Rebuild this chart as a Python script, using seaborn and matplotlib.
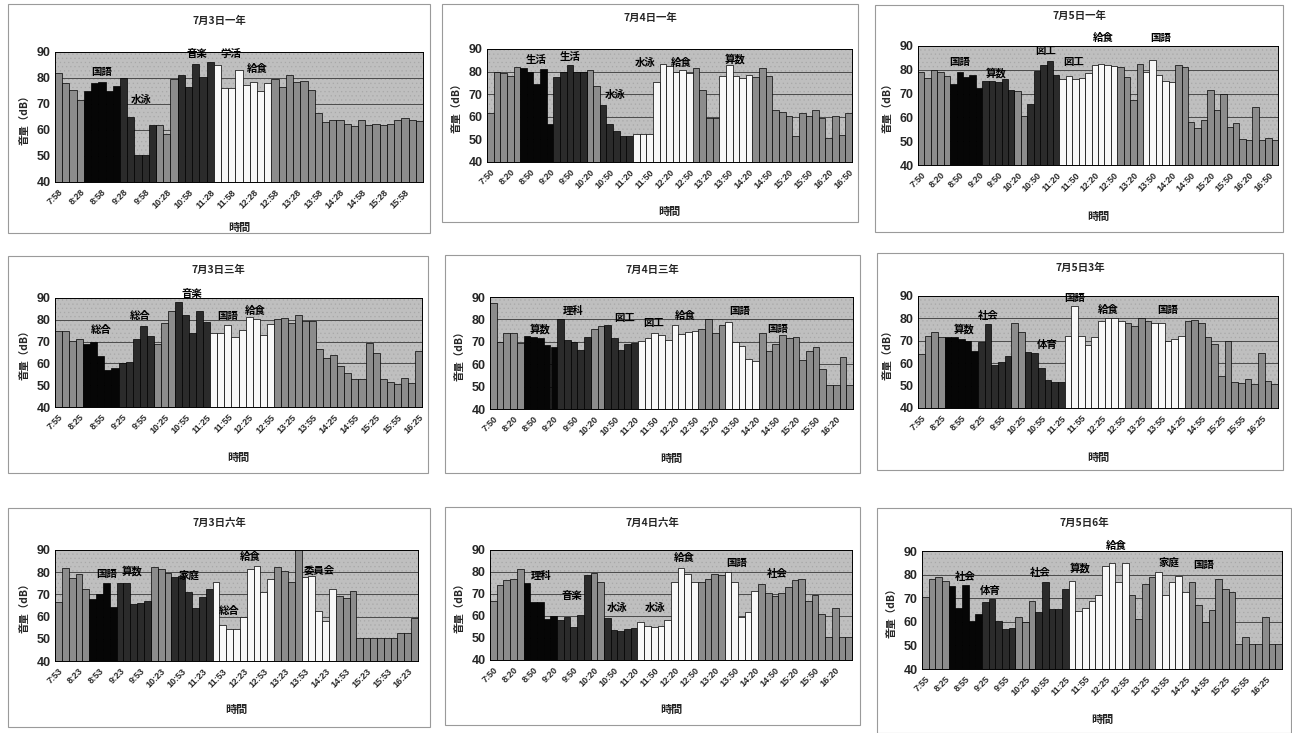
import matplotlib
matplotlib.use("Agg")
import matplotlib.pyplot as plt
from matplotlib.patches import Rectangle
import seaborn as sns
import pandas as pd

sns.set_style("white")
plt.rcParams['font.family'] = ['Noto Sans CJK JP', 'DejaVu Sans']
plt.rcParams['font.weight'] = 'bold'
plt.rcParams['hatch.linewidth'] = 0.4

# ---------------- data ----------------
titles = ["7月3日一年", "7月4日一年", "7月5日一年",
          "7月3日三年", "7月4日三年", "7月5日3年",
          "7月3日六年", "7月4日六年", "7月5日6年"]

start_times = ["7:58", "7:50", "7:50", "7:55", "7:50", "7:55", "7:53", "7:50", "7:55"]

# sound level (dB), one bar per 10 minutes
v1 = [82, 78, 75.5, 71.5, 75, 78, 78.5, 75, 77, 80, 65, 50.5, 50.5, 62, 62, 58.5, 79.5,
      81, 76.5, 85.5, 80.5, 86, 85, 76, 76, 83, 77.5, 78.5, 75, 78, 79.5, 76.5, 81, 78.5,
      79, 75.5, 66.5, 63, 64, 64, 62.5, 61.5, 64, 62, 62.5, 62, 62.5, 64, 64.5, 64, 63.5]
v2 = [61.5, 80, 79.5, 78, 82, 81.5, 80, 74.5, 81, 57, 77.5, 80, 83, 80, 80, 80.5, 73.5,
      65, 57, 53.5, 51.5, 51.5, 52.5, 52.5, 52.5, 75.5, 83.5, 82.5, 80, 80.5, 79.5, 81.5,
      72, 59.5, 59.5, 78, 83, 78, 77, 78.5, 77.5, 81.5, 78, 63, 62, 60.5, 51.5, 61.5, 60.5,
      63, 59.5, 50.5, 60.5, 52, 61.5]
v3 = [79, 76.5, 80, 79, 77.5, 74, 79, 77, 78, 72.5, 75.5, 75.5, 75, 76, 71.5, 71, 60.5,
      65.5, 79.5, 82, 83.5, 78, 76, 77.5, 76, 76.5, 78.5, 82, 82.5, 82, 81.5, 81, 77, 67.5,
      82.5, 79, 84, 78, 75.5, 75, 82, 81, 58, 55.5, 59, 71.5, 63, 70, 56, 57.5, 51, 50.5,
      64.5, 50.5, 51.5, 50.5]
v4 = [75, 75, 70.5, 71, 69, 70, 63.5, 57, 58, 60, 60.5, 71, 77, 72.5, 69, 78.5, 84, 88,
      82, 74, 84, 79, 74, 74, 77.5, 72, 75.5, 81.5, 80.5, 73, 78, 80.5, 81, 78.5, 82, 79.5,
      79.5, 66.5, 62.5, 64, 59, 55.5, 53, 53, 69.5, 65, 53, 51.5, 50.5, 53.5, 51, 65.5]
v5 = [87.5, 70, 74, 74, 69.5, 72.5, 72, 71.5, 68.5, 67.5, 80, 71, 70, 66.5, 72, 75.5, 77,
      77.5, 71.5, 66.5, 69, 69.5, 70.5, 71.5, 74, 73, 71, 77.5, 73.5, 74.5, 75, 75.5, 80,
      74, 77.5, 79, 70, 68, 62.5, 61.5, 74, 66, 69, 73, 71.5, 72, 62, 66, 67.5, 58, 50.5,
      50.5, 63, 50.5]
v6 = [64, 72, 74, 71.5, 71.5, 71.5, 71, 70, 65.5, 69.5, 77.5, 59, 60.5, 63, 78, 74, 65,
      64.5, 58, 52.5, 51.5, 51.5, 72, 85.5, 72, 68, 71.5, 79, 80, 80, 79, 78, 76.5, 80, 79,
      78, 78, 70, 71, 72, 79, 79.5, 78, 71.5, 68.5, 54.5, 70, 51.5, 51, 53, 50.5, 64.5, 52,
      50.5]
v7 = [66.5, 82, 77.5, 79, 72.5, 68, 70, 75, 64.5, 75, 75, 65.5, 66, 67, 82.5, 81.5, 79.5,
      78, 78.5, 71, 64, 69, 72.5, 75.5, 56, 54.5, 54.5, 60, 81.5, 83, 71, 77, 82.5, 80.5,
      75.5, 90.5, 78, 78.5, 62.5, 58, 72.5, 69.5, 68.5, 71.5, 50.5, 50.5, 50.5, 50.5, 50.5,
      50.5, 52.5, 52.5, 59.5]
v8 = [67, 74, 76.5, 77, 81.5, 75, 66.5, 66.5, 58.5, 60, 58, 59.5, 55, 60.5, 78.5, 79.5,
      75.5, 59, 53.5, 53, 54, 54.5, 57.5, 55.5, 55, 55.5, 58, 75.5, 82, 79, 75.5, 75.5, 77,
      79, 78.5, 80, 75.5, 59.5, 62, 71.5, 74.5, 70.5, 69, 70.5, 73, 76.5, 77, 67, 69.5, 61,
      50.5, 63.5, 50.5, 50.5]
v9 = [70.5, 78, 79, 77.5, 75, 66, 75.5, 60.5, 63.5, 68.5, 69.5, 60.5, 57, 57.5, 62, 60,
      69, 64, 77, 65.5, 65.5, 74, 77.5, 64.5, 66, 69, 71.5, 83.5, 85, 77, 85, 71.5, 61, 76,
      79, 81, 71.5, 77, 79.5, 72.5, 77, 67, 60, 65, 78, 74, 72.5, 50.5, 53.5, 50.5, 50.5,
      62, 50.5, 50.5]

# period type of each bar: g = break/other, k = 1st lesson block, d = 2nd block, w = lunch/afternoon
t1 = "gggg" + "kkkkk" + "ddddd" + "ggg" + "ddddd" + "wwwwwwww" + "g" * 21
t2 = "ggggg" + "kkkkk" + "ddddd" + "gg" + "ddddd" + "w" * 9 + "gggg" + "wwwww" + "g" * 15
t3 = "ggggg" + "kkkkk" + "ddddd" + "gg" + "ddddd" + "w" * 9 + "gggg" + "wwwww" + "g" * 16
t4 = "gggg" + "kkkkk" + "ddddd" + "ggg" + "ddddd" + "w" * 9 + "g" * 21
t5 = "ggggg" + "kkkkk" + "ddddd" + "gg" + "ddddd" + "w" * 9 + "gggg" + "wwwww" + "g" * 14
t6 = "gggg" + "kkkkk" + "ddddd" + "gg" + "dddddd" + "w" * 9 + "gggg" + "wwwww" + "g" * 14
t7 = "ggggg" + "kkkk" + "ddddd" + "ggg" + "dddddd" + "w" * 9 + "gggg" + "wwwww" + "g" * 12
t8 = "ggggg" + "kkkkk" + "ddddd" + "gg" + "ddddd" + "w" * 9 + "gggg" + "wwwww" + "g" * 14
t9 = "gggg" + "kkkkk" + "ddddd" + "ggg" + "ddddd" + "w" * 9 + "gggg" + "wwwww" + "g" * 14

# lesson labels: text, bar position, dB level
lab1 = [("国語", 6.0, 82.3), ("水泳", 11.5, 71.4), ("音楽", 19.2, 89.4), ("学活", 23.8, 89.4), ("給食", 27.5, 83.6)]
lab2 = [("生活", 6.9, 85.3), ("生活", 12.0, 86.5), ("水泳", 18.8, 69.5), ("水泳", 23.3, 84), ("給食", 28.8, 84), ("算数", 36.9, 85.5)]
lab3 = [("国語", 5.9, 83.3), ("算数", 11.7, 78.4), ("図工", 19.4, 87.9), ("図工", 23.7, 83.3), ("給食", 28.3, 93.5), ("国語", 37.2, 93.5)]
lab4 = [("総合", 6.1, 75.2), ("総合", 11.6, 81.9), ("音楽", 18.9, 92), ("国語", 24.0, 81.6), ("給食", 27.9, 84.2)]
lab5 = [("算数", 6.9, 75.5), ("理科", 11.8, 83.6), ("図工", 19.5, 80.8), ("図工", 23.9, 78.4), ("給食", 28.5, 81.4), ("国語", 36.6, 83.6), ("国語", 42.3, 75.9)]
lab6 = [("算数", 6.5, 75.2), ("社会", 10.0, 81.1), ("体育", 18.9, 68.2), ("国語", 23.0, 89), ("給食", 28.0, 83.8), ("国語", 37.0, 83.8)]
lab7 = [("国語", 7.0, 79), ("算数", 10.8, 80.5), ("家庭", 19.1, 78.3), ("総合", 24.9, 62.7), ("給食", 28.0, 87), ("委員会", 38.1, 80.5)]
lab8 = [("理科", 7.1, 78.2), ("音楽", 11.7, 69.1), ("水泳", 18.4, 63.5), ("水泳", 24.1, 63.5), ("給食", 28.4, 86.2), ("国語", 36.3, 84), ("社会", 42.3, 79)]
lab9 = [("社会", 6.0, 78.9), ("体育", 9.7, 73.2), ("社会", 17.3, 80.5), ("算数", 23.3, 82.5), ("給食", 28.7, 92.1), ("家庭", 36.5, 85), ("国語", 41.7, 83.9)]

values = [v1, v2, v3, v4, v5, v6, v7, v8, v9]
types = [t1, t2, t3, t4, t5, t6, t7, t8, t9]
labels = [lab1, lab2, lab3, lab4, lab5, lab6, lab7, lab8, lab9]

# ---------------- layout (pixels) ----------------
W, H = 1292, 733
plot_px = [(55, 52, 423, 182), (487, 49, 852, 162), (918, 46, 1278, 165),
           (55, 298, 422, 407), (490, 297, 853, 409), (918, 296, 1278, 408),
           (55, 550, 418, 661), (490, 550, 852, 660), (922, 551, 1282, 669)]
box_px = [(8, 4, 430, 233), (442, 4, 858, 222), (875, 5, 1283, 232),
          (8, 256, 428, 473), (445, 255, 860, 473), (877, 253, 1283, 470),
          (8, 508, 430, 727), (445, 507, 860, 725), (877, 508, 1291, 733)]
title_y = [21, 18, 16, 270, 270, 268, 523, 523, 523]
xlab_y = [227, 211, 216, 457, 458, 457, 709, 709, 719]

palette = {"g": "#8c8c8c", "k": "#060606", "d": "#2b2b2b", "w": "#f8f8f8"}
NUM_FONT = ["Liberation Sans", "DejaVu Sans"]


def time_labels(start, n):
    h, m = map(int, start.split(":"))
    t0 = h * 60 + m
    out = []
    for i in range(0, n, 3):
        t = t0 + 10 * i
        out.append(f"{t // 60}:{t % 60:02d}")
    return out


fig = plt.figure(figsize=(W / 100, H / 100), dpi=100)
fig.patch.set_facecolor("white")

for p in range(9):
    bl, bt, br, bb = box_px[p]
    fig.patches.append(Rectangle((bl / W, 1 - bb / H), (br - bl) / W, (bb - bt) / H,
                                 transform=fig.transFigure, fill=False,
                                 edgecolor="#9a9a9a", linewidth=0.8))
    l, t, r, b = plot_px[p]
    ax = fig.add_axes([l / W, 1 - b / H, (r - l) / W, (b - t) / H])
    ax.set_facecolor("#bfbfbf")
    # stippled background like the original print
    ax.add_patch(Rectangle((0, 0), 1, 1, transform=ax.transAxes, facecolor="none",
                           edgecolor="#a8a8a8", hatch="....", linewidth=0, zorder=0))
    vals = values[p]
    n = len(vals)
    df = pd.DataFrame({"pos": list(range(n)), "dB": vals, "kind": list(types[p])})
    sns.barplot(data=df, x="pos", y="dB", hue="kind", palette=palette, dodge=False,
                width=1.0, edgecolor="black", linewidth=0.5, legend=False, ax=ax,
                zorder=2)
    ax.set_ylim(40, 90)
    ax.set_xlim(-0.5, n - 0.5)
    ax.set_yticks([40, 50, 60, 70, 80, 90])
    ax.set_yticklabels(["40", "50", "60", "70", "80", "90"], fontsize=9, fontweight="bold",
                       family=NUM_FONT)
    for gy in [50, 60, 70, 80]:
        ax.axhline(gy, color="#4a4a4a", linewidth=0.7, zorder=1)
    tl = time_labels(start_times[p], n)
    ax.set_xticks(list(range(0, n, 3)))
    ax.set_xticklabels(tl, rotation=45, ha="right", rotation_mode="anchor",
                       fontsize=6.5, fontweight="bold", family=NUM_FONT)
    ax.tick_params(axis="x", length=2, width=0.5, pad=2)
    ax.tick_params(axis="y", length=2, width=0.5, pad=1)
    ax.set_xlabel("")
    ax.set_ylabel("")
    for s in ax.spines.values():
        s.set_color("black")
        s.set_linewidth(0.7)
    for txt, xp, yp in labels[p]:
        ax.text(xp, yp, txt, ha="center", va="center", fontsize=7.5, fontweight="bold",
                color="black", zorder=5)
    # titles / axis labels
    fig.text(((bl + br) / 2) / W, 1 - title_y[p] / H, titles[p], ha="center", va="center",
             fontsize=7.5, fontweight="bold")
    fig.text(((l + r) / 2) / W, 1 - xlab_y[p] / H, "時間", ha="center", va="center",
             fontsize=8, fontweight="bold")
    fig.text((l - 31) / W, 1 - ((t + b) / 2) / H, "音量（dB）", ha="center", va="center",
             rotation=90, fontsize=7.5, fontweight="bold")

fig.savefig("out.png", dpi=100, facecolor="white")
